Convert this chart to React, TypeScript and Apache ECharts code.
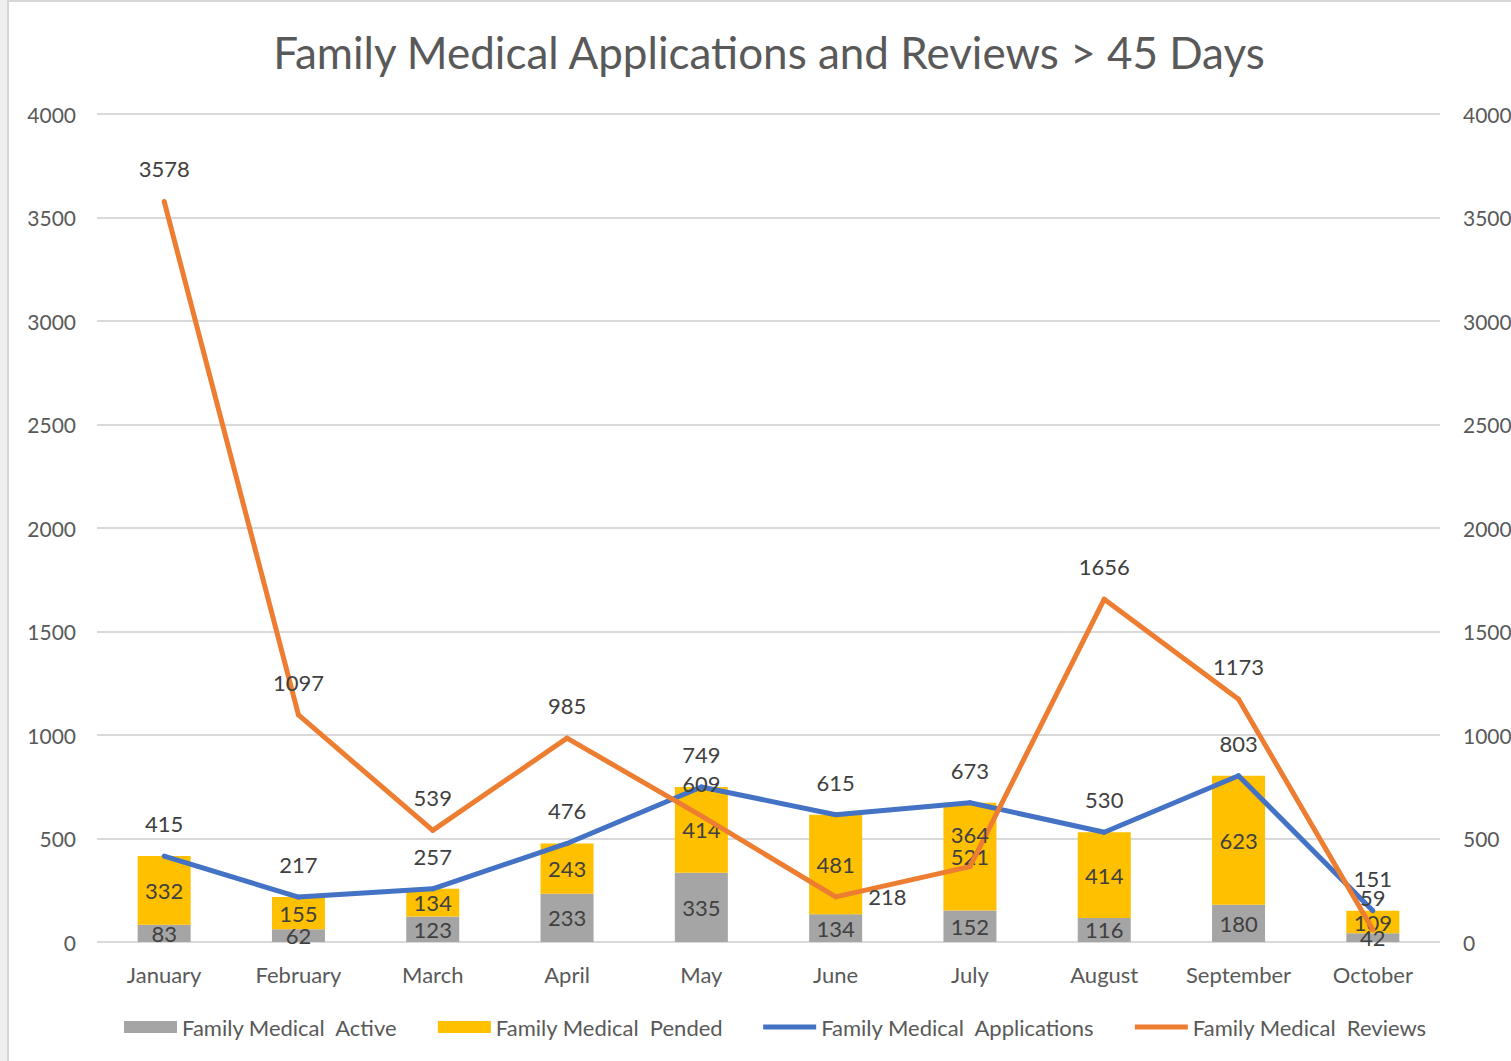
import React, { useEffect, useRef } from "react";
import * as echarts from "echarts";

const TITLE = "Family Medical Applications and Reviews > 45 Days";
const months = ["January", "February", "March", "April", "May", "June", "July", "August", "September", "October"];
const activeVals = [83, 62, 123, 233, 335, 134, 152, 116, 180, 42];
const pendedVals = [332, 155, 134, 243, 414, 481, 521, 414, 623, 109];
const applicationVals = [415, 217, 257, 476, 749, 615, 673, 530, 803, 151];
const reviewVals = [3578, 1097, 539, 985, 609, 218, 364, 1656, 1173, 59];
const yTicks = { min: 0, max: 4000, interval: 500 };

const NAME_ACTIVE = "Family Medical  Active";
const NAME_PENDED = "Family Medical  Pended";
const NAME_APPS = "Family Medical  Applications";
const NAME_REVIEWS = "Family Medical  Reviews";

const FONT = "Lato, 'Open Sans', sans-serif";
const LABEL_COLOR = "#404040";
const AXIS_COLOR = "#595959";

export default function App() {
  const ref = useRef<HTMLDivElement>(null);
  useEffect(() => {
    if (!ref.current) return;
    const chart = echarts.init(ref.current, null, { renderer: "svg" });
    const labelBase = { show: true, color: LABEL_COLOR, fontSize: 22, fontFamily: FONT };
    const plain = (v: number) => String(v);
    const option: any = {
      animation: false,
      backgroundColor: "#ffffff",
      textStyle: { fontFamily: FONT },
      title: {
        text: TITLE,
        left: 764,
        textAlign: "center",
        top: 25,
        textStyle: { fontFamily: FONT, fontSize: 44, fontWeight: "normal", color: AXIS_COLOR },
      },
      graphic: [
        { type: "rect", shape: { x: 0, y: 0, width: 8, height: 1061 }, style: { fill: "#EFEFEF" }, z: -1 },
        {
          type: "rect",
          shape: { x: 8, y: 1, width: 1600, height: 1200 },
          style: { fill: "none", stroke: "#D6D6D6", lineWidth: 2 },
          z: -1,
        },
      ],
      grid: { left: 97, right: 71, top: 114, bottom: 119, containLabel: false, outerBoundsMode: "none" },
      legend: {
        bottom: 18,
        left: 119,
        itemWidth: 53,
        itemHeight: 12,
        itemGap: 40,
        textStyle: { fontFamily: FONT, fontSize: 22, color: AXIS_COLOR },
        data: [
          { name: NAME_ACTIVE, icon: "rect" },
          { name: NAME_PENDED, icon: "rect" },
          { name: NAME_APPS, icon: "path://M0 0H110V10H0Z" },
          { name: NAME_REVIEWS, icon: "path://M0 0H110V10H0Z" },
        ],
      },
      xAxis: {
        type: "category",
        data: months,
        axisLine: { show: false },
        axisTick: { show: false },
        axisLabel: { color: AXIS_COLOR, fontSize: 22, fontFamily: FONT, margin: 21, interval: 0 },
      },
      yAxis: [
        {
          type: "value",
          ...yTicks,
          axisLine: { show: false },
          axisTick: { show: false },
          axisLabel: { color: AXIS_COLOR, fontSize: 21, fontFamily: FONT, margin: 21, formatter: plain },
          splitLine: { lineStyle: { color: "#D9D9D9", width: 2 } },
        },
        {
          type: "value",
          ...yTicks,
          position: "right",
          axisLine: { show: false },
          axisTick: { show: false },
          axisLabel: { color: AXIS_COLOR, fontSize: 21, fontFamily: FONT, margin: 23, formatter: plain },
          splitLine: { show: false },
        },
      ],
      series: [
        {
          name: NAME_ACTIVE,
          type: "bar",
          stack: "total",
          data: activeVals,
          barWidth: 53,
          itemStyle: { color: "#A5A5A5" },
          label: { ...labelBase, position: "inside" },
        },
        {
          name: NAME_PENDED,
          type: "bar",
          stack: "total",
          data: pendedVals,
          barWidth: 53,
          itemStyle: { color: "#FFC000" },
          label: { ...labelBase, position: "inside" },
        },
        {
          name: NAME_APPS,
          type: "line",
          data: applicationVals,
          symbol: "circle",
          symbolSize: 5,
          itemStyle: { color: "#4472C4" },
          lineStyle: { color: "#4472C4", width: 5, join: "round" },
          label: { ...labelBase, position: "top", distance: 19 },
          z: 3,
        },
        {
          name: NAME_REVIEWS,
          type: "line",
          data: reviewVals.map((v, i) =>
            i === 5 ? { value: v, label: { position: "right", distance: 30 } } : v
          ),
          symbol: "circle",
          symbolSize: 5,
          itemStyle: { color: "#ED7D31" },
          lineStyle: { color: "#ED7D31", width: 5, join: "round" },
          label: { ...labelBase, position: "top", distance: 19 },
          z: 4,
        },
      ],
    };
    chart.setOption(option);
    return () => chart.dispose();
  }, []);
  return (
    <div
      ref={ref}
      style={{ position: "absolute", left: 0, top: 0, width: 1511, height: 1061 }}
    />
  );
}
